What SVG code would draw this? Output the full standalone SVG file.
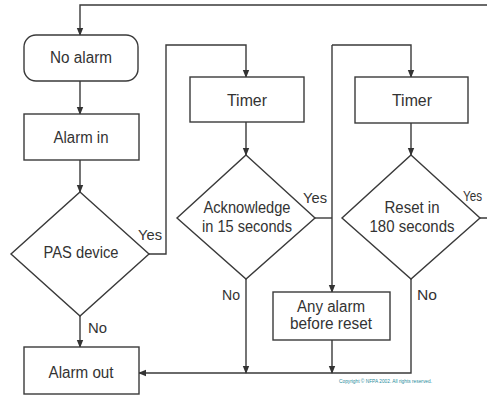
<svg xmlns="http://www.w3.org/2000/svg" width="487" height="397" viewBox="0 0 487 397">
<style>
.box{fill:#fff;stroke:#3a3a3a;stroke-width:1.4}
.ln{fill:none;stroke:#3a3a3a;stroke-width:1.4}
.t{font-family:"Liberation Sans",Arial,sans-serif;font-size:16px;fill:#333;text-anchor:middle}
.lb{font-family:"Liberation Sans",Arial,sans-serif;font-size:15px;fill:#333}
.c{font-family:"Liberation Sans",Arial,sans-serif;font-size:5px;fill:#2a8c9c}
</style>
<defs>
<marker id="ah" markerWidth="8" markerHeight="8" refX="7" refY="4" orient="auto" markerUnits="userSpaceOnUse">
<path d="M0,0.8 L8,4 L0,7.2 Z" fill="#333"/>
</marker>
</defs>
<rect width="487" height="397" fill="#fff"/>
<g id="connectors">
<path class="ln" d="M480,218 H492 V5 H80 V35" marker-end="url(#ah)"/>
<path class="ln" d="M80,81 V114" marker-end="url(#ah)"/>
<path class="ln" d="M80,160 V192" marker-end="url(#ah)"/>
<path class="ln" d="M149,254 H166 V45 H246 V77" marker-end="url(#ah)"/>
<path class="ln" d="M246,122 V155" marker-end="url(#ah)"/>
<path class="ln" d="M246,279 V373" marker-end="url(#ah)"/>
<path class="ln" d="M315,218 H332"/>
<path class="ln" d="M332,45 H411 V77" marker-end="url(#ah)"/>
<path class="ln" d="M332,45 V292" marker-end="url(#ah)"/>
<path class="ln" d="M411,123 V155" marker-end="url(#ah)"/>
<path class="ln" d="M332,340 V373" marker-end="url(#ah)"/>
<path class="ln" d="M411,279 V373 H139" marker-end="url(#ah)"/>
<path class="ln" d="M80,316 V347" marker-end="url(#ah)"/>
</g>
<g id="no-alarm"><rect class="box" x="24" y="35" width="114" height="46" rx="12"/><text class="t" x="81" y="63" textLength="62" lengthAdjust="spacingAndGlyphs">No alarm</text></g>
<g id="alarm-in"><rect class="box" x="24" y="114" width="115" height="46"/><text class="t" x="81" y="143" textLength="55" lengthAdjust="spacingAndGlyphs">Alarm in</text></g>
<g id="pas-device"><polygon class="box" points="80,192 149,254 80,316 11,254"/><text class="t" x="81" y="258" textLength="75" lengthAdjust="spacingAndGlyphs">PAS device</text></g>
<g id="timer1"><rect class="box" x="190" y="77" width="114" height="45"/><text class="t" x="247" y="106" textLength="40" lengthAdjust="spacingAndGlyphs">Timer</text></g>
<g id="acknowledge"><polygon class="box" points="246,155 315,218 246,279 177,218"/><text class="t" x="247" y="213" textLength="87" lengthAdjust="spacingAndGlyphs">Acknowledge</text><text class="t" x="247" y="232" textLength="90" lengthAdjust="spacingAndGlyphs">in 15 seconds</text></g>
<g id="timer2"><rect class="box" x="355" y="77" width="113" height="46"/><text class="t" x="412" y="106" textLength="40" lengthAdjust="spacingAndGlyphs">Timer</text></g>
<g id="reset"><polygon class="box" points="411,155 480,218 411,279 342,218"/><text class="t" x="412" y="213" textLength="55" lengthAdjust="spacingAndGlyphs">Reset in</text><text class="t" x="412" y="232" textLength="85" lengthAdjust="spacingAndGlyphs">180 seconds</text></g>
<g id="any-alarm"><rect class="box" x="273" y="292" width="117" height="48"/><text class="t" x="331" y="312" textLength="68" lengthAdjust="spacingAndGlyphs">Any alarm</text><text class="t" x="331" y="329" textLength="82" lengthAdjust="spacingAndGlyphs">before reset</text></g>
<g id="alarm-out"><rect class="box" x="24" y="347" width="115" height="47"/><text class="t" x="81" y="378" textLength="65" lengthAdjust="spacingAndGlyphs">Alarm out</text></g>
<g id="labels">
<text class="lb" x="138" y="240" textLength="24" lengthAdjust="spacingAndGlyphs">Yes</text>
<text class="lb" x="88" y="333" textLength="19" lengthAdjust="spacingAndGlyphs">No</text>
<text class="lb" x="222" y="300" textLength="18" lengthAdjust="spacingAndGlyphs">No</text>
<text class="lb" x="303" y="203" textLength="24" lengthAdjust="spacingAndGlyphs">Yes</text>
<text class="lb" x="417" y="300" textLength="20" lengthAdjust="spacingAndGlyphs">No</text>
<text class="lb" x="463" y="201" textLength="19" lengthAdjust="spacingAndGlyphs">Yes</text>
<text class="c" x="339" y="383" textLength="93" lengthAdjust="spacingAndGlyphs">Copyright © NFPA 2002. All rights reserved.</text>
</g>
</svg>
